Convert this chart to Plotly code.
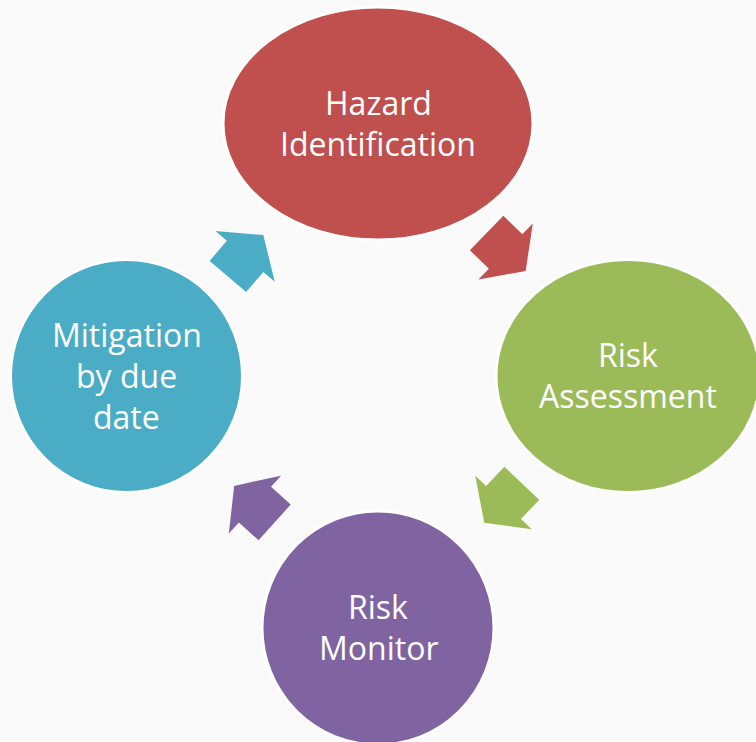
import math
import plotly.graph_objects as go

# ---- data ----
stage_lines = [["Hazard", "Identification"], ["Risk", "Assessment"], ["Risk", "Monitor"],
               ["Mitigation", "by due", "date"]]
stage_colors = ["#C0504D", "#9BBB59", "#8064A2", "#4BACC6"]
# arrow k leads from stage k to stage k+1 and uses stage k's colour
arrow_from = [0, 1, 2, 3]

# ---- layout geometry (pixels, y downward) ----
W, H = 756, 742
BG = "#FAFAFA"
node_cx = [378, 628, 378, 126.5]
node_cy = [123.5, 376, 628, 376]
node_rx = [155, 132, 116, 116]
node_ry = [116.5, 116.5, 117, 116.5]
line_gap = 41
text_shift = -1
hub = (377.5, 376)
arrow_pos_angle = [-45.8, 43.5, 132.0, 220.5]   # position around hub (deg, screen coords)
arrow_radius = [178.6, 178.5, 177.6, 178.4]
# arrow template in its own frame (centred): u along pointing direction, v across
tmpl = [(-21.5, 24), (5, 24), (5, 39), (33, 0), (5, -39), (5, -24), (-21.5, -24)]

fig = go.Figure()

for k, src in enumerate(arrow_from):
    a = math.radians(arrow_pos_angle[k])
    cx = hub[0] + arrow_radius[k] * math.cos(a)
    cy = hub[1] + arrow_radius[k] * math.sin(a)
    d = a + math.pi / 2
    ux, uy = math.cos(d), math.sin(d)
    vx, vy = -uy, ux
    xs, ys = [], []
    for u, v in tmpl:
        xs.append(cx + u * ux + v * vx)
        ys.append(cy + u * uy + v * vy)
    xs.append(xs[0]); ys.append(ys[0])
    fig.add_trace(go.Scatter(x=xs, y=ys, mode="lines", fill="toself",
                             fillcolor=stage_colors[src], line=dict(width=0, color=stage_colors[src]),
                             hoverinfo="skip", showlegend=False))

for i, lines in enumerate(stage_lines):
    fig.add_shape(type="circle", xref="x", yref="y",
                  x0=node_cx[i] - node_rx[i], x1=node_cx[i] + node_rx[i],
                  y0=node_cy[i] - node_ry[i], y1=node_cy[i] + node_ry[i],
                  fillcolor=stage_colors[i], line=dict(color="white", width=3), layer="above")
    n = len(lines)
    for j, txt in enumerate(lines):
        y = node_cy[i] + text_shift + (j - (n - 1) / 2) * line_gap
        fig.add_annotation(x=node_cx[i], y=y, text=txt, showarrow=False,
                           font=dict(family="Open Sans, sans-serif", size=32, color="white"),
                           align="center", xanchor="center", yanchor="middle")

fig.update_layout(
    width=W, height=H, margin=dict(l=0, r=0, t=0, b=0),
    paper_bgcolor=BG, plot_bgcolor=BG,
    xaxis=dict(range=[0, W], visible=False, fixedrange=True),
    yaxis=dict(range=[H, 0], visible=False, fixedrange=True),
    showlegend=False,
)
fig.write_html("out.html", config={"displayModeBar": False},
               post_script="document.body.style.margin='0';document.body.style.background='%s';" % BG)
